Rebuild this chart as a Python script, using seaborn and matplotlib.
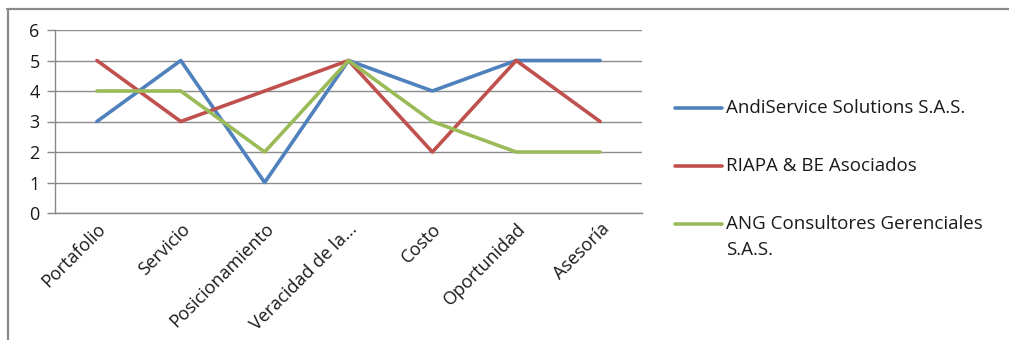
import matplotlib
matplotlib.use("Agg")
import matplotlib.pyplot as plt
from matplotlib.lines import Line2D
import seaborn as sns
import pandas as pd

categories = ["Portafolio", "Servicio", "Posicionamiento", "Veracidad de la...",
              "Costo", "Oportunidad", "Asesoría"]
andiservice = [3, 5, 1, 5, 4, 5, 5]
riapa = [5, 3, 4, 5, 2, 5, 3]
ang = [4, 4, 2, 5, 3, 2, 2]
series_names = ["AndiService Solutions S.A.S.", "RIAPA & BE Asociados",
                "ANG Consultores Gerenciales\nS.A.S."]
colors = ["#4F81BD", "#C0504D", "#9BBB59"]

rows = []
for name, vals in zip(series_names, [andiservice, riapa, ang]):
    for i, (c, v) in enumerate(zip(categories, vals)):
        rows.append({"idx": i, "cat": c, "value": v, "serie": name})
df = pd.DataFrame(rows)

sns.set_style("white")
plt.rcParams["font.family"] = ["Open Sans", "DejaVu Sans"]

W, H = 1009, 340
fig = plt.figure(figsize=(W / 100, H / 100), dpi=100)
left, right, top, bottom = 55, 642, 30, 213
ax = fig.add_axes([left / W, 1 - bottom / H, (right - left) / W, (bottom - top) / H])

sns.lineplot(data=df, x="idx", y="value", hue="serie", palette=colors,
             hue_order=series_names, linewidth=2.6, ax=ax, legend=False)

ax.set_xlim(-0.5, len(categories) - 0.5)
ax.set_ylim(0, 6)
ax.set_xticks([i for i in range(len(categories))])
ax.set_xticklabels(categories, rotation=45, ha="right", rotation_mode="anchor",
                   fontsize=13, color="#1a1a1a")
ax.set_yticks(range(0, 7))
ax.set_yticklabels([str(i) for i in range(0, 7)], fontsize=13, color="#1a1a1a")
ax.tick_params(axis="x", which="major", length=0, pad=5)
ax.set_xticks([i - 0.5 for i in range(len(categories) + 1)], minor=True)
ax.tick_params(axis="x", which="minor", length=6, color="#888888", width=1)
ax.tick_params(axis="y", length=6, color="#888888", width=1, pad=5, left=True)
ax.grid(axis="y", color="#8c8c8c", linewidth=1)
ax.set_axisbelow(True)
for s in ["top", "right"]:
    ax.spines[s].set_visible(False)
for s in ["left", "bottom"]:
    ax.spines[s].set_color("#888888")
    ax.spines[s].set_linewidth(1)
ax.set_xlabel("")
ax.set_ylabel("")

# legend (drawn manually to mimic the spreadsheet layout)
row_y = [108, 166, 224]
for name, c, y in zip(series_names, colors, row_y):
    fig.add_artist(Line2D([675 / W, 722 / W], [1 - y / H, 1 - y / H], color=c,
                          linewidth=2.6, transform=fig.transFigure))
    for k, part in enumerate(name.split("\n")):
        fig.text(726 / W, 1 - (y + 26 * k) / H, part, fontsize=13.5,
                 color="#1a1a1a", va="center", ha="left")

fig.add_artist(Line2D([7 / W, 1], [1 - 8.5 / H, 1 - 8.5 / H], color="#8a8a8a",
                      linewidth=1.6, transform=fig.transFigure))
fig.add_artist(Line2D([7.5 / W, 7.5 / W], [0, 1 - 8.5 / H], color="#8a8a8a",
                      linewidth=1.6, transform=fig.transFigure))

fig.savefig("out.png", dpi=100)
